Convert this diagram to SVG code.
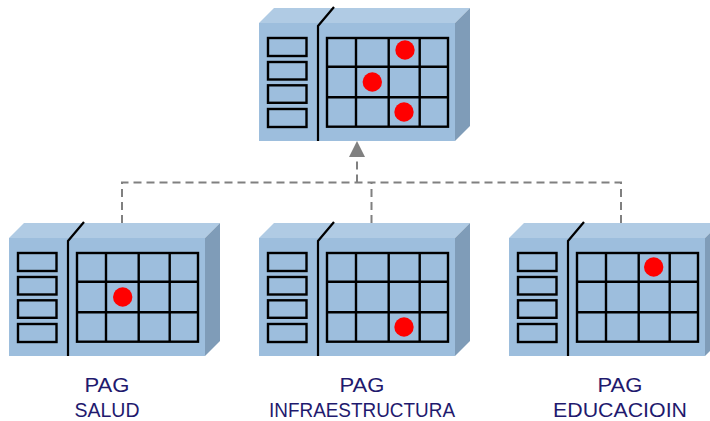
<svg xmlns="http://www.w3.org/2000/svg" xmlns:xlink="http://www.w3.org/1999/xlink" width="710" height="421" viewBox="0 0 710 421">
<style>
.front{fill:#9dbedd}
.top{fill:#b0cbe4}
.side{fill:#7f9cb8}
.ln{fill:none;stroke:#000;stroke-width:2.400}
.div{fill:none;stroke:#000;stroke-width:2.200}
.dot{fill:#ff0000}
.dash{fill:none;stroke:#808080;stroke-width:2;stroke-dasharray:8 5}
.lbl{font-family:"Liberation Sans",Arial,sans-serif;font-size:20px;fill:#1f1a6e;text-anchor:middle}
</style>
<defs>
<g id="box">
<path class="front" d="M259 23H455V141H259Z"/>
<path class="top" d="M259 23L274 8H470L455 23Z"/>
<path class="side" d="M455 23L470 8V126L455 141Z"/>
<path class="div" d="M318 141V26L334 7"/>
<rect class="ln" x="268" y="38" width="38.500" height="18"/>
<rect class="ln" x="268" y="62" width="38.500" height="17.500"/>
<rect class="ln" x="268" y="85.300" width="38.500" height="17.500"/>
<rect class="ln" x="268" y="109" width="38.500" height="18"/>
<rect class="ln" x="327" y="38" width="121" height="88.700"/>
<path class="ln" d="M356 38V126.700M388.700 38V126.700M419.700 38V126.700M327 66.700H448M327 97.300H448"/>
</g>
</defs>
<g id="connectors">
<path class="dash" d="M122 223V182.500H621V223"/>
<path class="dash" d="M371.500 223V182.500"/>
<path class="dash" d="M357 182.500V150"/>
<path d="M357 141L365 157H349Z" fill="#808080"/>
</g>
<g id="node-top">
<use xlink:href="#box" href="#box"/>
<circle class="dot" cx="405" cy="50" r="9.700"/>
<circle class="dot" cx="372.300" cy="82" r="9.700"/>
<circle class="dot" cx="404" cy="112" r="9.700"/>
</g>
<g id="node-salud">
<use xlink:href="#box" href="#box" x="-250" y="215"/>
<circle class="dot" cx="122.700" cy="297" r="9.700"/>
<text class="lbl" x="107" y="391.500" textLength="45" lengthAdjust="spacingAndGlyphs">PAG</text>
<text class="lbl" x="107" y="416.500" textLength="65" lengthAdjust="spacingAndGlyphs">SALUD</text>
</g>
<g id="node-infra">
<use xlink:href="#box" href="#box" x="0" y="215"/>
<circle class="dot" cx="404" cy="327" r="9.700"/>
<text class="lbl" x="362" y="391.500" textLength="45" lengthAdjust="spacingAndGlyphs">PAG</text>
<text class="lbl" x="362" y="416.500" textLength="186" lengthAdjust="spacingAndGlyphs">INFRAESTRUCTURA</text>
</g>
<g id="node-educacion">
<use xlink:href="#box" href="#box" x="250" y="215"/>
<circle class="dot" cx="653.700" cy="267" r="9.700"/>
<text class="lbl" x="620" y="391.500" textLength="45" lengthAdjust="spacingAndGlyphs">PAG</text>
<text class="lbl" x="620" y="416.500" textLength="134" lengthAdjust="spacingAndGlyphs">EDUCACIOIN</text>
</g>
</svg>
